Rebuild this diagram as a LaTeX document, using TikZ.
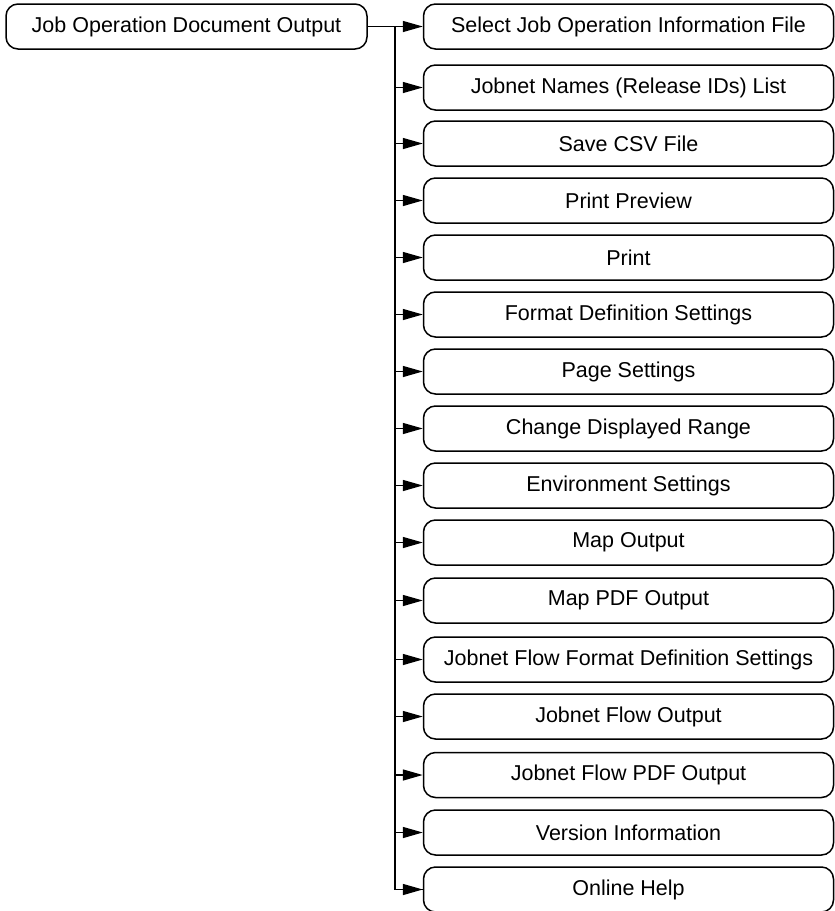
\documentclass[tikz,border=0pt]{standalone}
\usepackage{fontspec}
\setmainfont{Liberation Sans}
\usetikzlibrary{arrows.meta}
\begin{document}
\begin{tikzpicture}[x=1pt,y=1pt,
  box/.style={draw,line width=1.5pt,rounded corners=12pt,minimum height=45pt,inner sep=0pt,font=\fontsize{21.5}{25}\selectfont},
  leftbox/.style={box,minimum width=361pt},
  rightbox/.style={box,minimum width=410pt},
  conn/.style={line width=1.5pt},
  arr/.style={conn,-{Triangle[length=20pt,width=11pt]}}]
\useasboundingbox (0,0) rectangle (835,-911);
\node[leftbox] (root) at (186.5,-26.5) {Job Operation Document Output};
\foreach \i/\y/\t in {1/26.5/Select Job Operation Information File,
  2/87.5/Jobnet Names (Release IDs) List,
  3/143.5/Save CSV File,
  4/200.5/Print Preview,
  5/257.5/Print,
  6/314.5/Format Definition Settings,
  7/371.5/Page Settings,
  8/428.5/Change Displayed Range,
  9/485.5/Environment Settings,
  10/542.5/Map Output,
  11/600.5/Map PDF Output,
  12/659.5/Jobnet Flow Format Definition Settings,
  13/716.5/Jobnet Flow Output,
  14/775/Jobnet Flow PDF Output,
  15/832.5/Version Information,
  16/889.5/Online Help}{
  \node[rightbox] (c\i) at (628.5,-\y) {\t};
}
\coordinate (j) at (395,-26.5);
\draw[arr] (root.east) -- (c1.west);
\draw[conn] (j) |- (c16.west);
\foreach \i in {2,...,16}{
  \draw[arr] (j |- c\i.west) -- (c\i.west);
}
\end{tikzpicture}
\end{document}
